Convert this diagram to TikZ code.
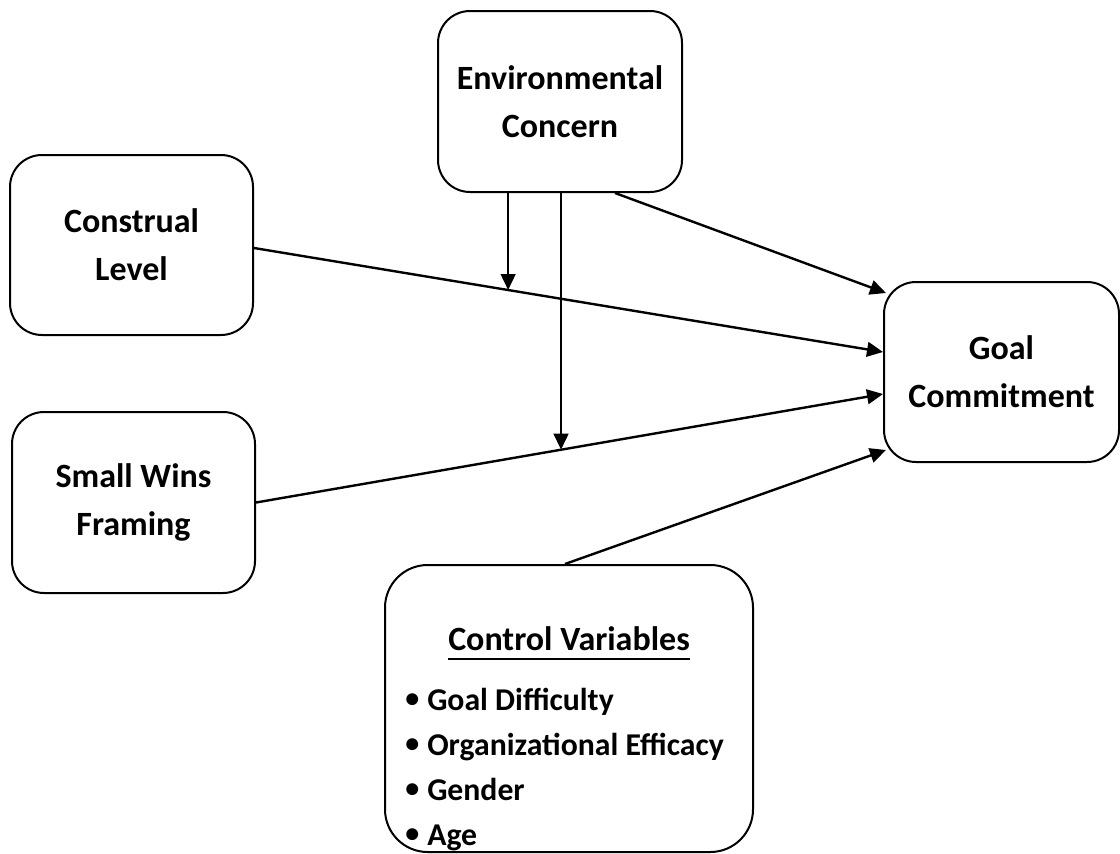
\documentclass[tikz,border=0pt]{standalone}
\usepackage{fontspec}
\setmainfont{Carlito}
\usetikzlibrary{arrows.meta,calc}
\newcommand{\mybul}{\makebox[16.5pt][l]{\raisebox{1.8pt}{\fontsize{21}{21}\selectfont\textbullet}}}
\begin{document}
\begin{tikzpicture}[x=0.75pt,y=-0.75pt,
  box/.style={draw,line width=1.5pt,rounded corners=24pt,inner sep=0pt,align=center,
    font=\fontsize{25.5}{36}\selectfont\bfseries},
  conn/.style={line width=1.8pt,-{Triangle[length=12pt,width=11pt]}},
  item/.style={anchor=base west,inner sep=0pt,font=\fontsize{23.8}{30}\selectfont\bfseries}]
\useasboundingbox (0,0) rectangle (1120,853);
\node[box,minimum width=183pt,minimum height=135.75pt] (ec) at (560,101.5) {Environmental\\Concern};
\node[box,minimum width=182.25pt,minimum height=135pt] (cl) at (131.5,245) {Construal\\Level};
\node[box,minimum width=182.25pt,minimum height=135.75pt] (sw) at (133.5,502.5) {Small Wins\\Framing};
\node[box,minimum width=176.25pt,minimum height=135pt] (gc) at (1001.5,372) {Goal\\Commitment};
\node[box,rounded corners=32pt,minimum width=276pt,minimum height=215.25pt] (cv) at (569,708.5) {};
\node[anchor=base,inner sep=0pt,font=\fontsize{25.5}{36}\selectfont\bfseries] (cvh) at (569,650) {Control Variables};
\draw[line width=1.5pt] ($(cvh.base west)+(0,9)$) -- ($(cvh.base east)+(0,9)$);
\node[item] (i1) at (405,710) {\mybul Goal Difficulty};
\node[item] (i2) at (405,755) {\mybul Organizational Efficacy};
\node[item] (i3) at (405,800) {\mybul Gender};
\node[item] (i4) at (405,845) {\mybul Age};
\draw[conn] ($(ec.south)+(55,0)$) -- ($(gc.west)+(3,-79)$);
\draw[conn] ($(cl.east)+(0,3)$) -- ($(gc.west)+(0,-20)$);
\draw[conn] (sw.east) -- ($(gc.west)+(0,22)$);
\draw[conn] ($(cv.north)+(-4,0)$) -- ($(gc.west)+(3,78)$);
\path ($(cl.east)+(0,3)$) -- ($(gc.west)+(0,-20)$) coordinate[pos=0.404] (m1);
\path (sw.east) -- ($(gc.west)+(0,22)$) coordinate[pos=0.4865] (m2);
\draw[conn] (m1 |- ec.south) -- (m1);
\draw[conn] (m2 |- ec.south) -- (m2);
\end{tikzpicture}
\end{document}
